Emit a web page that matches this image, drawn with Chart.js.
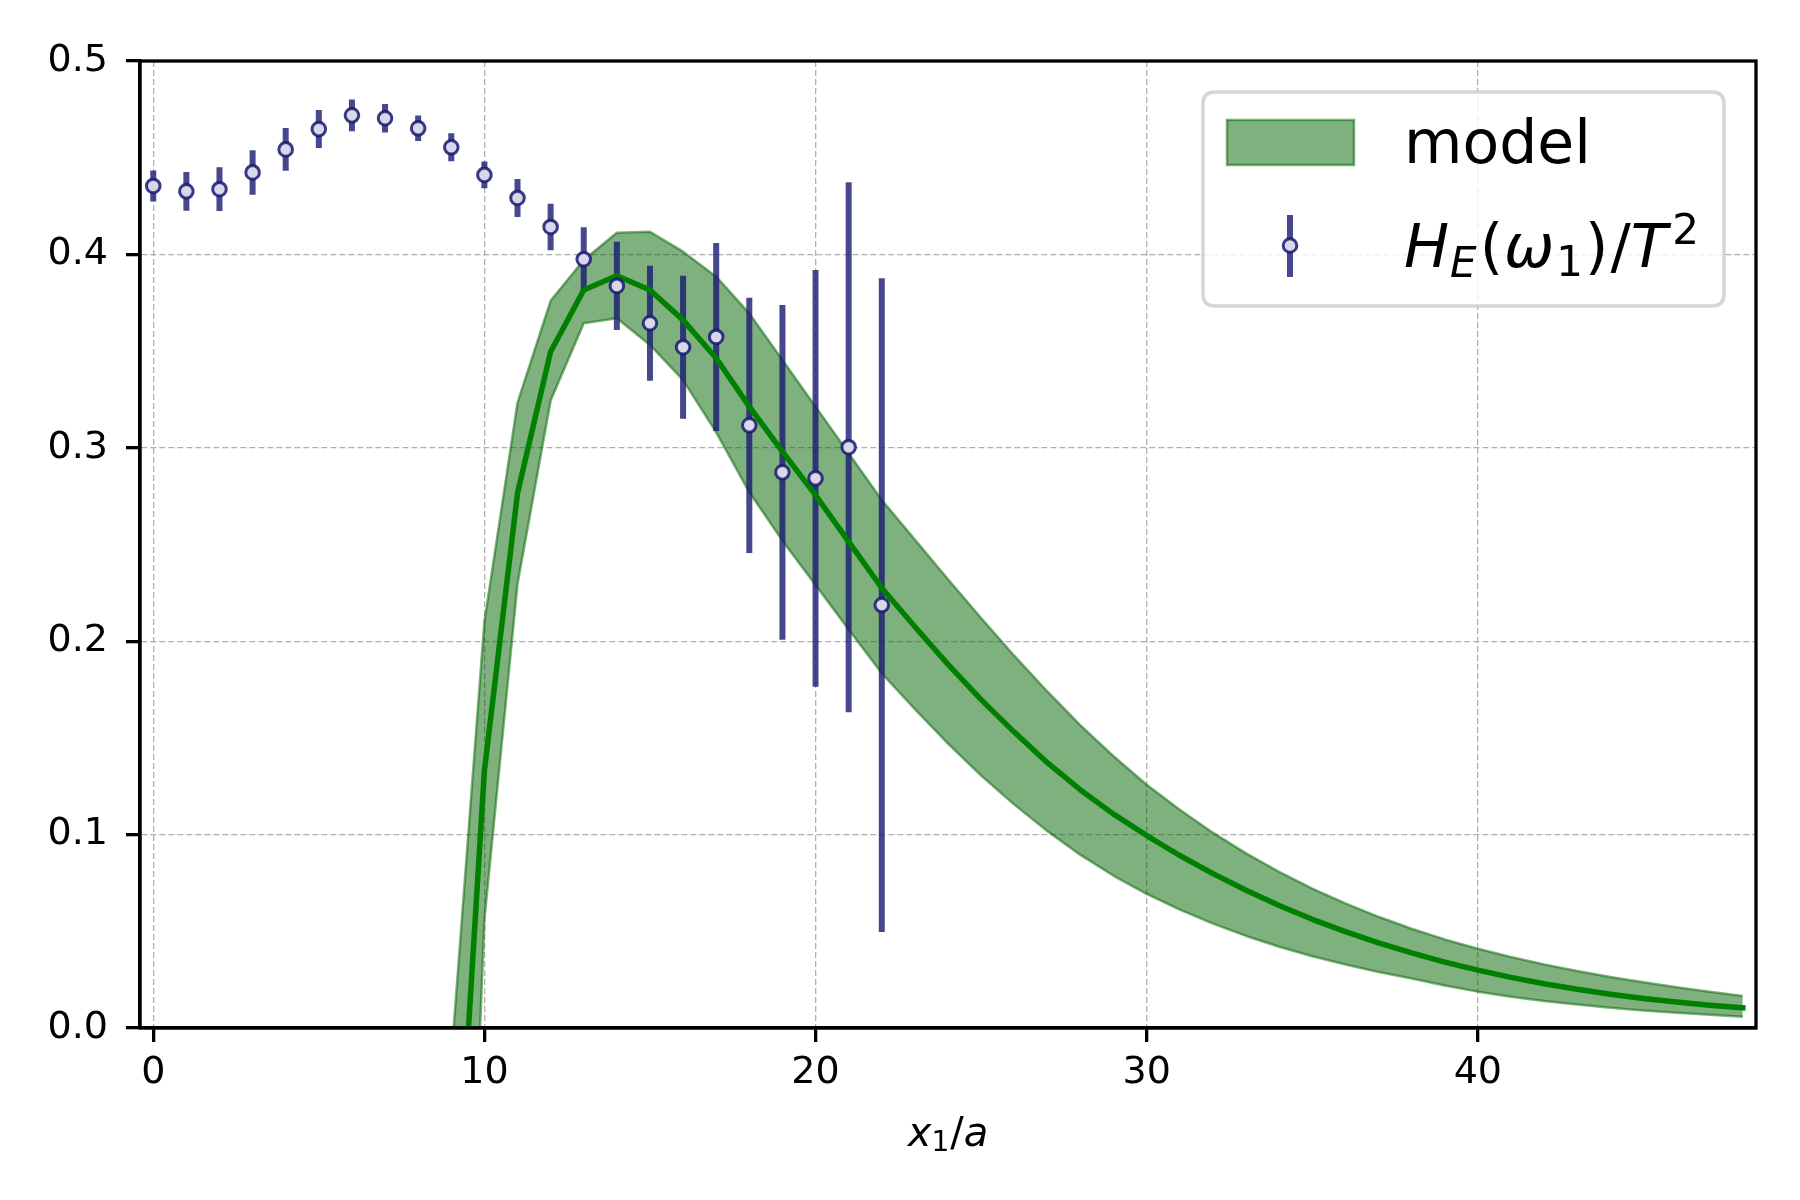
<!DOCTYPE html>
<html>
<head>
<meta charset="utf-8">
<script src="https://cdn.jsdelivr.net/npm/chart.js@4.4.0/dist/chart.umd.min.js"></script>
<style>
html,body{margin:0;padding:0;background:#ffffff;}
canvas{display:block;}
</style>
</head>
<body>
<canvas id="c" width="1800" height="1200"></canvas>
<script>
// ---------- data ----------
const dataX = [0,1,2,3,4,5,6,7,8,9,10,11,12,13,14,15,16,17,18,19,20,21,22];
const dataY = [0.4354,0.4326,0.4337,0.4424,0.4543,0.4648,0.4719,0.4704,0.4652,0.4554,0.4411,0.4292,0.4142,0.3975,0.3837,0.3644,0.3520,0.3573,0.3116,0.2873,0.2842,0.3003,0.2187];
const dataErr = [0.0080,0.0100,0.0113,0.0115,0.0110,0.0098,0.0082,0.0074,0.0066,0.0072,0.0069,0.0098,0.0120,0.0165,0.0228,0.0297,0.0370,0.0486,0.0660,0.0865,0.1077,0.1370,0.1690];

const modelX = [9,10,11,12,13,14,15,16,17,18,19,20,21,22,23,24,25,26,27,28,29,30,31,32,33,34,35,36,37,38,39,40,41,42,43,44,45,46,47,48];
const modelMid = [-0.144,0.133,0.2765,0.3497,0.3816,0.3890,0.3816,0.3660,0.3463,0.3213,0.2980,0.2755,0.2515,0.2275,0.2075,0.1880,0.1698,0.1530,0.1372,0.1231,0.1106,0.0995,0.0892,0.0798,0.0712,0.0633,0.0562,0.0498,0.0440,0.0388,0.0341,0.0299,0.0262,0.0229,0.0200,0.0175,0.0153,0.0134,0.0118,0.0104];
const modelHigh = [-0.016,0.210,0.3233,0.3760,0.3971,0.4112,0.4117,0.4014,0.3885,0.3695,0.3454,0.3213,0.2972,0.2730,0.2525,0.2320,0.2120,0.1925,0.1740,0.1565,0.1405,0.1258,0.1128,0.1010,0.0903,0.0807,0.0721,0.0644,0.0575,0.0513,0.0458,0.0410,0.0367,0.0329,0.0295,0.0264,0.0236,0.0211,0.0188,0.0165];
const modelLow = [-0.375,0.056,0.2295,0.3244,0.3644,0.3670,0.3532,0.3350,0.3080,0.2770,0.2520,0.2290,0.2060,0.1834,0.1648,0.1470,0.1305,0.1155,0.1018,0.0895,0.0787,0.0693,0.0612,0.0540,0.0476,0.0420,0.0371,0.0328,0.0290,0.0256,0.0220,0.0188,0.0162,0.0140,0.0121,0.0105,0.0091,0.0079,0.0068,0.0058];

const xTicks = [0,10,20,30,40];
const yTicks = [0.0,0.1,0.2,0.3,0.4,0.5];
const legendLabels = ['model', 'H_E(ω_1)/T^2'];
const xAxisLabel = 'x_1/a';

// ---------- styles ----------
const FAM = "'DejaVu Sans'";
const BAND = 'rgba(0,100,0,0.5)';
const LINE = '#008000';
const ERR = 'rgba(25,25,112,0.8)';
const MEDGE = 'rgba(25,25,112,0.85)';
const MFACE = '#d8d8ea';

const pts = (xs, ys) => xs.map((x, i) => ({x: x, y: ys[i]}));
const barData = [];
dataX.forEach((x, i) => {
  barData.push({x: x, y: dataY[i] - dataErr[i]});
  barData.push({x: x, y: dataY[i] + dataErr[i]});
  barData.push({x: x, y: null});
});

// draws math-like text pieces
function drawPieces(ctx, pieces, x, baseline, centerX) {
  const widths = pieces.map(p => {
    ctx.font = (p.it ? 'italic ' : '') + p.size + 'px ' + FAM;
    return ctx.measureText(p.t).width + (p.gap || 0);
  });
  let total = widths.reduce((a, b) => a + b, 0);
  let cx = (centerX !== undefined) ? centerX - total / 2 : x;
  pieces.forEach((p, i) => {
    ctx.font = (p.it ? 'italic ' : '') + p.size + 'px ' + FAM;
    ctx.fillText(p.t, cx + (p.pre || 0), baseline + (p.dy || 0));
    cx += widths[i];
  });
}

const decor = {
  id: 'decor',
  afterDatasetsDraw(chart) {
    const {ctx, chartArea: a} = chart;
    ctx.save();
    ctx.strokeStyle = '#000';
    ctx.lineWidth = 3.3;
    ctx.lineJoin = 'miter';
    ctx.strokeRect(a.left, a.top, a.right - a.left, a.bottom - a.top);
    ctx.restore();
  },
  afterDraw(chart) {
    const {ctx, chartArea: a} = chart;
    ctx.save();
    ctx.fillStyle = '#000';
    ctx.textBaseline = 'alphabetic';
    ctx.textAlign = 'left';
    // x axis label  x_1/a
    drawPieces(ctx, [
      {t: 'x', it: true, size: 40},
      {t: '1', size: 28, dy: 5, gap: 1},
      {t: '/', size: 40},
      {t: 'a', it: true, size: 40}
    ], 0, 1146, (a.left + a.right) / 2);

    // legend frame
    const lx = 1203, ly = 92, lw = 521, lh = 214, r = 12;
    ctx.beginPath();
    ctx.moveTo(lx + r, ly);
    ctx.lineTo(lx + lw - r, ly);
    ctx.quadraticCurveTo(lx + lw, ly, lx + lw, ly + r);
    ctx.lineTo(lx + lw, ly + lh - r);
    ctx.quadraticCurveTo(lx + lw, ly + lh, lx + lw - r, ly + lh);
    ctx.lineTo(lx + r, ly + lh);
    ctx.quadraticCurveTo(lx, ly + lh, lx, ly + lh - r);
    ctx.lineTo(lx, ly + r);
    ctx.quadraticCurveTo(lx, ly, lx + r, ly);
    ctx.closePath();
    ctx.fillStyle = 'rgba(255,255,255,0.8)';
    ctx.fill();
    ctx.strokeStyle = 'rgba(204,204,204,0.8)';
    ctx.lineWidth = 3.5;
    ctx.stroke();

    // model handle
    ctx.fillStyle = BAND;
    ctx.fillRect(1227, 120, 127, 45);
    ctx.strokeStyle = BAND;
    ctx.lineWidth = 2.5;
    ctx.strokeRect(1227, 120, 127, 45);

    // errorbar handle
    ctx.strokeStyle = ERR;
    ctx.lineWidth = 6;
    ctx.lineCap = 'butt';
    ctx.beginPath();
    ctx.moveTo(1290, 215);
    ctx.lineTo(1290, 277);
    ctx.stroke();
    ctx.beginPath();
    ctx.arc(1290, 245.5, 6.8, 0, Math.PI * 2);
    ctx.fillStyle = MFACE;
    ctx.fill();
    ctx.strokeStyle = MEDGE;
    ctx.lineWidth = 3;
    ctx.stroke();

    // legend texts
    ctx.fillStyle = '#000';
    ctx.font = '60px ' + FAM;
    ctx.fillText(legendLabels[0], 1404, 163);
    drawPieces(ctx, [
      {t: 'H', it: true, size: 60, gap: 1},
      {t: 'E', it: true, size: 42, dy: 10, gap: 3},
      {t: '(', size: 60, gap: 1},
      {t: 'ω', it: true, size: 60, gap: 2},
      {t: '1', size: 42, dy: 9, gap: 2},
      {t: ')', size: 60, gap: 2},
      {t: '/', size: 60},
      {t: 'T', it: true, size: 60, gap: 5},
      {t: '2', size: 42, dy: -23}
    ], 1404, 267);
    ctx.restore();
  }
};

new Chart(document.getElementById('c').getContext('2d'), {
  type: 'line',
  data: {
    datasets: [
      {label: 'model upper', data: pts(modelX, modelHigh), borderColor: BAND, backgroundColor: BAND,
       borderWidth: 2.5, fill: '+1', pointRadius: 0, tension: 0, order: 6, clip: 0, borderJoinStyle: 'round'},
      {label: 'model lower', data: pts(modelX, modelLow), borderColor: BAND, backgroundColor: BAND,
       borderWidth: 2.5, fill: false, pointRadius: 0, tension: 0, order: 5, clip: 0, borderJoinStyle: 'round'},
      {label: 'error bars', data: barData, borderColor: ERR, borderWidth: 6, pointRadius: 0,
       spanGaps: false, fill: false, order: 4, borderCapStyle: 'butt', clip: 0},
      {label: 'model', data: pts(modelX, modelMid), borderColor: LINE, borderWidth: 5.5, pointRadius: 0,
       fill: false, tension: 0, order: 3, clip: 0, borderJoinStyle: 'round', borderCapStyle: 'square'},
      {label: 'H_E(ω_1)/T^2', data: pts(dataX, dataY), showLine: false, pointRadius: 6.8, pointBorderWidth: 3,
       pointBackgroundColor: MFACE, pointBorderColor: MEDGE, order: 2, clip: false}
    ]
  },
  options: {
    responsive: false,
    animation: false,
    devicePixelRatio: 1,
    layout: {padding: {left: 0, right: 44, top: 61, bottom: 0}},
    plugins: {legend: {display: false}, tooltip: {enabled: false}},
    scales: {
      x: {
        type: 'linear', min: -0.4, max: 48.4,
        afterFit(s) { s.height = 172; },
        afterBuildTicks(s) { s.ticks = xTicks.map(v => ({value: v})); },
        ticks: {callback: v => String(v), font: {family: 'DejaVu Sans', size: 38}, color: '#000',
                padding: 8, maxRotation: 0, autoSkip: false, includeBounds: false},
        grid: {color: '#b0b0b0', lineWidth: 1.3, tickLength: 14, tickWidth: 3.3, tickColor: '#000', tickBorderDash: []},
        border: {display: true, color: '#000', width: 3.3, dash: [6, 3]}
      },
      y: {
        type: 'linear', min: 0, max: 0.5,
        afterFit(s) { s.width = 140; },
        afterBuildTicks(s) { s.ticks = yTicks.map(v => ({value: v})); },
        ticks: {callback: v => Number(v).toFixed(1), font: {family: 'DejaVu Sans', size: 38}, color: '#000',
                padding: 18, autoSkip: false, includeBounds: false},
        grid: {color: '#b0b0b0', lineWidth: 1.3, tickLength: 14, tickWidth: 3.3, tickColor: '#000', tickBorderDash: []},
        border: {display: true, color: '#000', width: 3.3, dash: [6, 3]}
      }
    }
  },
  plugins: [decor]
});
</script>
</body>
</html>
